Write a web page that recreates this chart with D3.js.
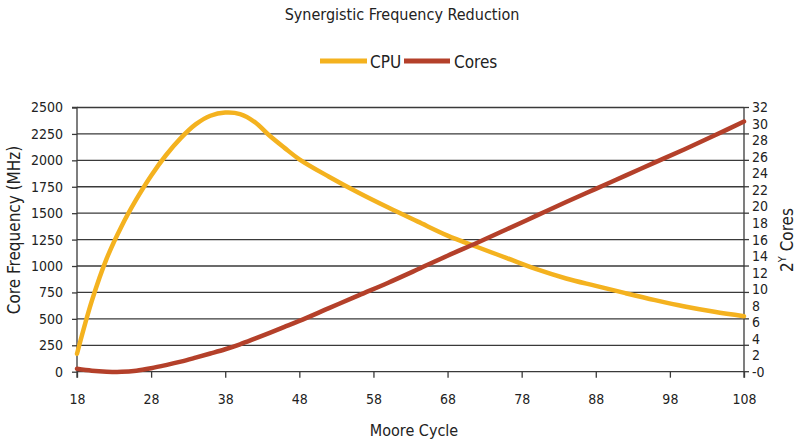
<!DOCTYPE html>
<html>
<head>
<meta charset="utf-8">
<script src="https://cdn.jsdelivr.net/npm/d3@7"></script>
<style>
  html, body { margin: 0; padding: 0; background: #fff; }
  svg { display: block; }
  text { font-family: "Liberation Sans Narrow", "DejaVu Sans Condensed", "Arial Narrow", sans-serif; fill: #222; }
</style>
</head>
<body>
<svg id="chart" width="800" height="444"></svg>
<script>
const moore = [18,20,22,24,26,28,30,32,34,36,38,40,42,44,46,48,52,56,60,64,68,72,76,80,84,88,92,96,100,104,108];
const cpu   = [170,670,1070,1375,1630,1855,2048,2210,2340,2422,2452,2438,2362,2232,2118,2010,1845,1693,1553,1420,1288,1180,1075,970,882,812,743,677,617,567,525];
const cores = [0.35,0.12,0.0,-0.02,0.12,0.42,0.8,1.22,1.7,2.2,2.72,3.32,4.0,4.7,5.42,6.15,7.7,9.25,10.78,12.4,14.05,15.62,17.25,18.9,20.55,22.15,23.75,25.35,26.95,28.6,30.3];
const xTicks = [18,28,38,48,58,68,78,88,98,108];
const leftTicks = [0,250,500,750,1000,1250,1500,1750,2000,2250,2500];
const rightLabels = [32,30,28,26,24,22,20,18,16,14,12,10,8,6,4,2,0];
const seriesNames = ["CPU","Cores"];
const colors = {CPU: "#F4B21F", Cores: "#B4402A"};

const svg = d3.select("#chart");
const x = d3.scaleLinear().domain([18,108]).range([77,744]);
const yL = d3.scaleLinear().domain([0,2500]).range([371.7,107.5]);
const yR = d3.scaleLinear().domain([0,32]).range([371.7,107.5]);

// gridlines
svg.append("g").selectAll("line").data(leftTicks.slice(1)).join("line")
  .attr("x1", x(18)).attr("x2", x(108))
  .attr("y1", d => yL(d)).attr("y2", d => yL(d))
  .attr("stroke", "#3a3a3a").attr("stroke-width", 1.3);

// left axis
const gL = svg.append("g").attr("transform", `translate(${x(18)},0)`)
  .call(d3.axisLeft(yL).tickValues(leftTicks).tickSize(5).tickPadding(9).tickFormat(d3.format("d")));
gL.select(".domain").attr("stroke", "#3a3a3a").attr("stroke-width", 1.3).attr("d", `M-5,${yL(2500)}H0V${yL(0)+6}`);
gL.selectAll(".tick line").attr("stroke", "#3a3a3a").attr("stroke-width", 1.3);
gL.selectAll(".tick text").style("font-size", "14px").attr("fill", "#222");

// right axis: tick marks at gridlines
const gR = svg.append("g").attr("transform", `translate(${x(108)},0)`);
gR.append("line").attr("x1",0).attr("x2",0).attr("y1",yR(32)).attr("y2",yR(0)+6)
  .attr("stroke","#3a3a3a").attr("stroke-width",1.3);
gR.selectAll("line.tk").data(leftTicks).join("line").attr("class","tk")
  .attr("x1",0).attr("x2",5).attr("y1", d => yL(d)).attr("y2", d => yL(d))
  .attr("stroke","#3a3a3a").attr("stroke-width",1.3);
gR.selectAll("text").data(rightLabels).join("text")
  .attr("x", 8).attr("y", d => yR(d)).attr("dy", "0.35em")
  .style("font-size", "14px")
  .text(d => d === 0 ? "-0" : d);

// bottom axis
const gB = svg.append("g").attr("transform", `translate(0,${yL(0)})`)
  .call(d3.axisBottom(x).tickValues(xTicks).tickSize(6).tickPadding(16).tickFormat(d3.format("d")));
gB.select(".domain").attr("stroke", "#3a3a3a").attr("stroke-width", 1.3).attr("d", `M${x(18)},0H${x(108)}`);
gB.selectAll(".tick line").attr("stroke", "#3a3a3a").attr("stroke-width", 1.3);
gB.selectAll(".tick text").style("font-size", "14px").attr("fill", "#222");

// lines
const lineL = d3.line().x((d,i) => x(moore[i])).y(d => yL(d)).curve(d3.curveCatmullRom.alpha(0.5));
const lineR = d3.line().x((d,i) => x(moore[i])).y(d => yR(d)).curve(d3.curveCatmullRom.alpha(0.5));
svg.append("path").attr("d", lineL(cpu)).attr("fill","none")
  .attr("stroke", colors.CPU).attr("stroke-width", 4.5).attr("stroke-linecap","round");
svg.append("path").attr("d", lineR(cores)).attr("fill","none")
  .attr("stroke", colors.Cores).attr("stroke-width", 4.5).attr("stroke-linecap","round");

// title
svg.append("text").attr("x", 402).attr("y", 20).attr("text-anchor","middle")
  .style("font-size","16px").text("Synergistic Frequency Reduction");

// legend
const leg = [{name: seriesNames[0], x1: 320, x2: 367, tx: 370}, {name: seriesNames[1], x1: 404, x2: 450, tx: 454}];
leg.forEach(l => {
  svg.append("line").attr("x1", l.x1).attr("x2", l.x2).attr("y1", 61).attr("y2", 61)
    .attr("stroke", colors[l.name]).attr("stroke-width", 5);
  svg.append("text").attr("x", l.tx).attr("y", 68).style("font-size","17px").text(l.name);
});

// axis titles
svg.append("text").attr("transform","translate(20,230) rotate(-90)").attr("text-anchor","middle")
  .style("font-size","17px").text("Core Frequency (MHz)");
svg.append("text").attr("x", 414).attr("y", 436).attr("text-anchor","middle")
  .style("font-size","16px").text("Moore Cycle");
const rt = svg.append("text").attr("transform","translate(793,240) rotate(-90)").attr("text-anchor","middle")
  .style("font-size","17px");
rt.append("tspan").text("2");
rt.append("tspan").attr("dy","-7").style("font-size","11px").text("Y");
rt.append("tspan").attr("dy","7").text(" Cores");
</script>
</body>
</html>
